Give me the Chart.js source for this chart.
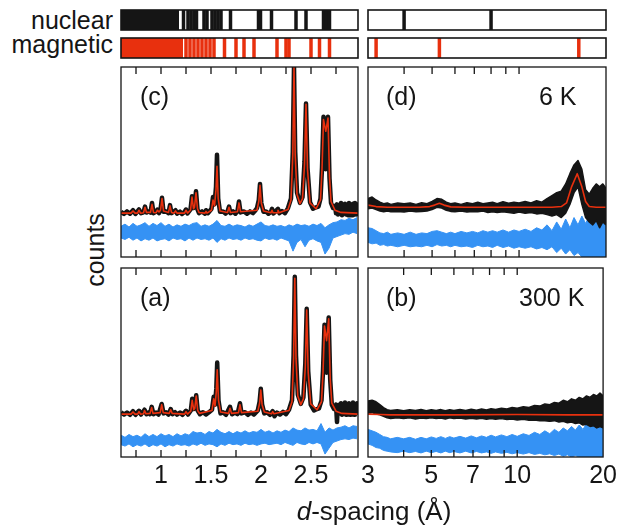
<!DOCTYPE html>
<html>
<head>
<meta charset="utf-8">
<script src="https://cdn.jsdelivr.net/npm/chart.js@4.4.1/dist/chart.umd.min.js"></script>
<style>
  body { margin: 0; background: #fff; }
  #fig { position: relative; width: 621px; height: 527px; font-family: "Liberation Sans", Arial, sans-serif; color: #151515; }
  #fig canvas { position: absolute; }
  .lbl { position: absolute; font-size: 25px; line-height: 25px; white-space: nowrap; }
</style>
</head>
<body>
<div id="fig">
  <canvas id="nucL" width="241" height="24" style="left:119px;top:8px"></canvas>
  <canvas id="magL" width="241" height="24" style="left:119px;top:36px"></canvas>
  <canvas id="nucR" width="242" height="24" style="left:366px;top:8px"></canvas>
  <canvas id="magR" width="242" height="24" style="left:366px;top:36px"></canvas>
  <canvas id="panelC" width="241" height="194" style="left:119px;top:65px"></canvas>
  <canvas id="panelD" width="242" height="194" style="left:366px;top:65px"></canvas>
  <canvas id="panelA" width="241" height="231" style="left:119px;top:266px"></canvas>
  <canvas id="panelB" width="273" height="231" style="left:348px;top:266px"></canvas>

  <div class="lbl" style="left:0;width:113px;text-align:right;top:8px">nuclear</div>
  <div class="lbl" style="left:0;width:113px;text-align:right;top:32px">magnetic</div>
  <div class="lbl" style="left:95px;top:250px;transform:translate(-50%,-50%) rotate(-90deg)">counts</div>
  <div class="lbl" style="left:140px;top:84px">(c)</div>
  <div class="lbl" style="left:386px;top:84px">(d)</div>
  <div class="lbl" style="left:539px;top:84px">6 K</div>
  <div class="lbl" style="left:140px;top:285px">(a)</div>
  <div class="lbl" style="left:386px;top:285px">(b)</div>
  <div class="lbl" style="left:519px;top:285px">300 K</div>
  <div class="lbl" style="left:374px;top:498px;font-size:26px;line-height:26px;transform:translateX(-50%)"><i>d</i>-spacing (Å)</div>
</div>
<script>
// axis ranges and ticks
const leftRange = [0.6, 2.97];
const rightRange = [3, 20];
const yRange = [-0.3, 1.0];
const leftTicks = [0.75, 1, 1.25, 1.5, 1.75, 2, 2.25, 2.5, 2.75];
const rightTicks = [4, 5, 6, 7, 8, 9, 10];
const leftTickLabels = [1, 1.5, 2, 2.5];
const rightTickLabels = [3, 5, 7, 10, 20];

// reflection markers
const nuclearBlockL = [0.6, 1.18];
const nuclearLinesL = [1.225, 1.27, 1.30, 1.33, 1.355, 1.43, 1.46, 1.51, 1.54, 1.57, 1.60, 1.695, 1.975, 1.995, 2.105, 2.35, 2.45, 2.625, 2.655, 2.685];
const nuclearLinesR = [4.0, 8.0];
const magneticBlockL = [0.6, 1.22];
const magneticLinesL = [1.25, 1.29, 1.33, 1.37, 1.41, 1.45, 1.49, 1.53, 1.635, 1.75, 1.83, 1.93, 2.16, 2.25, 2.28, 2.50, 2.585, 2.685];
const magneticLinesR = [3.2, 5.3, 16.1];

// panel (c), 6 K, short d
const fitC = [[0.60,0],[0.70,0],[0.72,0.015],[0.74,0],[0.765,0],[0.78,0.02],[0.795,0],[0.825,0.003],[0.84,0.04],[0.855,0.005],
  [0.895,0.005],[0.91,0.06],[0.925,0.005],[0.95,0.003],[0.965,0.02],[0.98,0.008],[0.995,0.02],[1.01,0.10],[1.025,0.015],[1.075,0.005],
  [1.09,0.05],[1.105,0.005],[1.13,0],[1.145,0.015],[1.16,0],[1.235,0],[1.25,0.02],[1.265,0],[1.295,0.02],[1.31,0.11],
  [1.325,0.03],[1.335,0.04],[1.35,0.14],[1.365,0.03],[1.38,0.005],[1.44,0],[1.45,0.012],[1.46,0],[1.505,0.02],[1.52,0.09],
  [1.535,0.05],[1.55,0.16],[1.56,0.32],[1.572,0.1],[1.59,0.015],[1.665,0.005],[1.68,0.04],[1.695,0.005],[1.765,0.01],[1.78,0.07],
  [1.795,0.01],[1.96,0.02],[1.978,0.08],[1.99,0.19],[2.003,0.07],[2.025,0.015],[2.10,0.003],[2.11,0.02],[2.12,0.003],[2.16,0.003],
  [2.17,0.02],[2.18,0.003],[2.27,0.025],[2.30,0.09],[2.318,0.4],[2.33,1.0],[2.342,0.4],[2.36,0.13],[2.39,0.065],[2.415,0.1],
  [2.435,0.33],[2.45,0.745],[2.465,0.3],[2.49,0.07],[2.55,0.03],[2.595,0.09],[2.61,0.3],[2.625,0.64],[2.648,0.56],[2.67,0.65],
  [2.685,0.25],[2.70,0.08],[2.74,0.02],[2.80,0.005],[2.97,0]];
const obsC = [[0.60,0.01],[0.63,-0.005],[0.66,0.012],[0.69,-0.004],[0.72,0.02],[0.745,-0.005],[0.78,0.025],[0.80,0],[0.825,0.006],[0.84,0.045],
  [0.855,0.004],[0.875,0.012],[0.895,0.004],[0.91,0.07],[0.925,0],[0.95,0.01],[0.965,0.025],[0.98,0],[0.995,0.025],[1.01,0.105],
  [1.025,0.01],[1.05,0.012],[1.075,0],[1.09,0.055],[1.105,0],[1.125,0.01],[1.145,0.02],[1.16,-0.004],[1.19,0.01],[1.21,-0.005],
  [1.235,0.008],[1.25,0.025],[1.265,-0.002],[1.295,0.025],[1.31,0.115],[1.325,0.035],[1.335,0.045],[1.35,0.15],[1.365,0.025],[1.38,0],
  [1.41,0.012],[1.44,-0.004],[1.45,0.02],[1.47,0],[1.505,0.03],[1.52,0.11],[1.535,0.06],[1.55,0.18],[1.56,0.40],[1.572,0.1],
  [1.59,0.01],[1.62,0.012],[1.645,-0.003],[1.665,0.01],[1.68,0.045],[1.695,0],[1.72,0.012],[1.745,-0.004],[1.765,0.015],[1.78,0.08],
  [1.795,0.005],[1.83,0.012],[1.86,-0.004],[1.89,0.012],[1.92,0],[1.945,0.02],[1.96,0.035],[1.978,0.09],[1.99,0.2],[2.003,0.07],
  [2.025,0.01],[2.05,0.012],[2.075,-0.004],[2.10,0.01],[2.11,0.03],[2.125,-0.002],[2.145,0.012],[2.17,0.03],[2.185,0],[2.21,0.015],
  [2.24,0],[2.27,0.035],[2.30,0.1],[2.318,0.42],[2.33,1.0],[2.342,0.42],[2.36,0.14],[2.39,0.07],[2.415,0.11],[2.435,0.35],
  [2.45,0.75],[2.465,0.31],[2.49,0.075],[2.52,0.03],[2.55,0.04],[2.575,0.045],[2.595,0.1],[2.61,0.31],[2.625,0.66],[2.648,0.3],
  [2.655,0.55],[2.67,0.66],[2.685,0.24],[2.70,0.07],[2.72,0.035],[2.74,0.05],[2.75,0],[2.76,0.06],[2.77,-0.01],[2.78,0.05],
  [2.79,0],[2.80,0.07],[2.81,-0.015],[2.82,0.055],[2.83,0],[2.84,0.065],[2.85,-0.01],[2.86,0.06],[2.87,-0.015],[2.88,0.07],
  [2.89,0],[2.90,0.06],[2.91,-0.015],[2.92,0.065],[2.93,-0.005],[2.94,0.07],[2.95,-0.01],[2.96,0.06],[2.97,0]];

// panel (a), 300 K, short d
const fitA = [[0.60,-0.005],[0.70,-0.005],[0.72,0.01],[0.74,-0.005],[0.765,-0.005],[0.78,0.012],[0.795,-0.005],[0.825,-0.003],[0.835,0.02],[0.85,-0.003],
  [0.89,0],[0.907,0.04],[0.92,0],[0.992,0.005],[1.007,0.06],[1.022,0.005],[1.082,0],[1.097,0.025],[1.112,0],[1.235,-0.005],
  [1.25,0.012],[1.265,-0.005],[1.298,0.015],[1.312,0.09],[1.327,0.025],[1.338,0.035],[1.352,0.12],[1.367,0.02],[1.385,0],[1.51,0.02],
  [1.527,0.1],[1.54,0.05],[1.553,0.15],[1.562,0.30],[1.575,0.09],[1.595,0.01],[1.675,0],[1.69,0.035],[1.705,0],[1.775,0.005],
  [1.79,0.06],[1.805,0.005],[1.968,0.015],[1.986,0.07],[1.998,0.16],[2.011,0.06],[2.033,0.01],[2.105,-0.003],[2.117,0.012],[2.13,-0.003],
  [2.28,0.02],[2.31,0.08],[2.326,0.38],[2.338,0.93],[2.35,0.38],[2.368,0.12],[2.398,0.06],[2.424,0.1],[2.443,0.32],[2.457,0.71],
  [2.472,0.28],[2.497,0.065],[2.56,0.025],[2.605,0.08],[2.62,0.28],[2.635,0.60],[2.656,0.5],[2.677,0.65],[2.692,0.24],[2.708,0.07],
  [2.75,0.015],[2.81,0],[2.97,-0.005]];
const obsA = [[0.60,0.008],[0.63,-0.008],[0.66,0.006],[0.69,-0.01],[0.72,0.015],[0.745,-0.01],[0.78,0.018],[0.80,-0.008],[0.835,0.025],[0.855,-0.006],
  [0.875,0.006],[0.89,-0.005],[0.907,0.045],[0.925,-0.006],[0.95,0.006],[0.975,-0.008],[1.007,0.065],[1.025,0],[1.05,0.008],[1.075,-0.008],
  [1.097,0.03],[1.115,-0.005],[1.14,0.008],[1.16,-0.008],[1.19,0.006],[1.215,-0.01],[1.25,0.018],[1.27,-0.008],[1.298,0.02],[1.312,0.1],
  [1.327,0.03],[1.338,0.04],[1.352,0.125],[1.367,0.02],[1.39,-0.006],[1.42,0.008],[1.45,-0.008],[1.48,0.008],[1.51,0.025],[1.527,0.115],
  [1.54,0.06],[1.553,0.17],[1.562,0.35],[1.575,0.09],[1.595,0],[1.62,0.008],[1.65,-0.01],[1.69,0.045],[1.71,-0.006],[1.74,0.006],
  [1.765,-0.005],[1.79,0.07],[1.805,0],[1.84,0.008],[1.87,-0.01],[1.90,0.006],[1.93,-0.008],[1.968,0.02],[1.986,0.08],[1.998,0.17],
  [2.011,0.06],[2.033,0],[2.06,0.008],[2.09,-0.01],[2.117,0.015],[2.135,-0.02],[2.16,0.006],[2.19,-0.008],[2.22,0.01],[2.25,-0.005],
  [2.28,0.025],[2.31,0.09],[2.326,0.4],[2.338,0.94],[2.35,0.4],[2.368,0.13],[2.398,0.065],[2.424,0.11],[2.443,0.34],[2.457,0.72],
  [2.472,0.29],[2.497,0.06],[2.53,0.02],[2.56,0.03],[2.58,0.035],[2.605,0.09],[2.62,0.29],[2.635,0.61],[2.656,0.28],[2.662,0.5],
  [2.677,0.66],[2.692,0.23],[2.708,0.06],[2.73,0.03],[2.75,0.06],[2.76,-0.06],[2.765,0.01],[2.78,0.06],[2.79,0],[2.80,0.07],
  [2.81,-0.01],[2.82,0.06],[2.83,0.005],[2.84,0.075],[2.85,-0.01],[2.86,0.06],[2.87,0],[2.88,0.07],[2.89,-0.01],[2.90,0.06],
  [2.91,0.005],[2.92,0.075],[2.93,-0.01],[2.94,0.065],[2.95,0],[2.96,0.07],[2.97,0.005]];

// difference curves (obs - calc), upper / lower edge of the noise band
const leftGrid = [0.60,0.64,0.68,0.72,0.76,0.80,0.84,0.88,0.92,0.96,
  1.00,1.04,1.08,1.12,1.16,1.20,1.24,1.28,1.32,1.36,
  1.40,1.44,1.48,1.52,1.56,1.60,1.64,1.68,1.72,1.76,
  1.80,1.84,1.88,1.92,1.96,2.00,2.04,2.08,2.12,2.16,
  2.20,2.24,2.28,2.32,2.36,2.40,2.44,2.48,2.52,2.56,
  2.60,2.64,2.68,2.72,2.76,2.80,2.84,2.88,2.92,2.96];
const diffHiC = [-0.09,-0.075,-0.095,-0.07,-0.09,-0.08,-0.065,-0.09,-0.07,-0.085,
  -0.065,-0.09,-0.075,-0.095,-0.08,-0.09,-0.075,-0.085,-0.07,-0.065,
  -0.09,-0.08,-0.09,-0.075,-0.05,-0.085,-0.09,-0.075,-0.09,-0.08,
  -0.085,-0.095,-0.08,-0.09,-0.075,-0.06,-0.085,-0.09,-0.08,-0.09,
  -0.085,-0.095,-0.08,-0.09,-0.075,-0.085,-0.08,-0.09,-0.075,-0.085,
  -0.07,-0.1,-0.08,-0.065,-0.06,-0.045,-0.05,-0.035,-0.045,-0.03];
const diffLoC = [-0.17,-0.18,-0.165,-0.185,-0.17,-0.19,-0.175,-0.185,-0.17,-0.19,
  -0.18,-0.175,-0.19,-0.17,-0.18,-0.175,-0.19,-0.17,-0.185,-0.17,
  -0.18,-0.175,-0.185,-0.17,-0.2,-0.175,-0.185,-0.17,-0.18,-0.175,
  -0.185,-0.17,-0.18,-0.175,-0.185,-0.19,-0.17,-0.18,-0.175,-0.185,
  -0.17,-0.18,-0.19,-0.26,-0.2,-0.18,-0.23,-0.185,-0.175,-0.19,
  -0.2,-0.28,-0.24,-0.17,-0.16,-0.15,-0.14,-0.145,-0.13,-0.14];
const diffHiA = [-0.15,-0.165,-0.145,-0.16,-0.15,-0.165,-0.14,-0.16,-0.145,-0.16,
  -0.14,-0.155,-0.145,-0.16,-0.14,-0.155,-0.14,-0.15,-0.125,-0.135,
  -0.13,-0.145,-0.125,-0.135,-0.11,-0.13,-0.14,-0.125,-0.14,-0.125,
  -0.135,-0.12,-0.135,-0.125,-0.13,-0.11,-0.13,-0.12,-0.135,-0.12,
  -0.13,-0.115,-0.125,-0.1,-0.115,-0.12,-0.1,-0.115,-0.11,-0.12,
  -0.07,-0.13,-0.1,-0.115,-0.1,-0.095,-0.085,-0.1,-0.085,-0.09];
const diffLoA = [-0.215,-0.225,-0.21,-0.23,-0.215,-0.225,-0.21,-0.23,-0.215,-0.225,
  -0.21,-0.23,-0.215,-0.225,-0.21,-0.22,-0.215,-0.225,-0.21,-0.22,
  -0.205,-0.22,-0.21,-0.215,-0.23,-0.21,-0.22,-0.205,-0.215,-0.21,
  -0.22,-0.205,-0.215,-0.21,-0.22,-0.21,-0.205,-0.215,-0.21,-0.205,
  -0.215,-0.2,-0.21,-0.22,-0.2,-0.21,-0.215,-0.2,-0.21,-0.2,
  -0.21,-0.28,-0.24,-0.2,-0.19,-0.18,-0.175,-0.18,-0.17,-0.175];

// long-d panels (d) 6 K and (b) 300 K
const rightGrid = [3.0,3.1,3.2,3.3,3.4,3.5,3.6,3.8,4.0,4.2,
  4.4,4.6,4.8,5.0,5.2,5.4,5.6,5.8,6.0,6.3,
  6.6,6.9,7.2,7.5,7.8,8.1,8.4,8.8,9.2,9.6,
  10,10.5,11,11.5,12,12.5,13,13.5,14,14.5,
  15,15.5,16,16.5,17,17.5,18,18.5,19,19.5,
  20];
const fitD = [[3.0,0.055],[3.2,0.045],[3.5,0.04],[4.5,0.04],[4.9,0.045],[5.1,0.055],[5.3,0.068],[5.5,0.055],[5.8,0.043],[6.5,0.04],
  [10,0.04],[13,0.04],[14,0.045],[14.6,0.07],[15.2,0.18],[15.9,0.27],[16.5,0.18],[17.0,0.08],[17.5,0.045],[18.5,0.04],[20,0.04]];
const obsHiD = [0.1,0.11,0.09,0.075,0.065,0.07,0.06,0.07,0.065,0.07,
  0.06,0.072,0.065,0.08,0.1,0.095,0.075,0.065,0.07,0.06,
  0.072,0.065,0.075,0.065,0.07,0.075,0.065,0.078,0.068,0.075,
  0.07,0.08,0.07,0.085,0.075,0.1,0.12,0.14,0.15,0.2,
  0.27,0.33,0.36,0.3,0.16,0.13,0.17,0.2,0.18,0.2,
  0.17];
const obsLoD = [0.03,0.035,0.025,0.015,0.01,0.015,0.01,0.012,0.008,0.015,
  0.01,0.012,0.015,0.025,0.04,0.035,0.02,0.012,0.01,0.015,
  0.008,0.012,0.01,0.015,0.005,0.01,0.005,0.01,0.005,0,
  0.008,0,0.005,-0.005,0,-0.01,-0.02,-0.01,-0.03,0,
  0.06,0.14,0.18,0.06,-0.03,-0.06,-0.08,-0.05,-0.1,-0.06,
  -0.08];
const diffHiD = [-0.1,-0.105,-0.12,-0.135,-0.14,-0.13,-0.145,-0.135,-0.145,-0.13,
  -0.145,-0.135,-0.14,-0.125,-0.12,-0.13,-0.14,-0.13,-0.14,-0.125,
  -0.135,-0.125,-0.135,-0.12,-0.13,-0.12,-0.13,-0.115,-0.13,-0.115,
  -0.125,-0.11,-0.125,-0.1,-0.115,-0.08,-0.12,-0.06,-0.11,-0.04,
  -0.1,-0.03,-0.08,-0.02,-0.07,-0.02,-0.06,-0.015,-0.05,-0.02,
  -0.04];
const diffLoD = [-0.2,-0.21,-0.205,-0.22,-0.215,-0.225,-0.22,-0.23,-0.22,-0.23,
  -0.225,-0.23,-0.22,-0.23,-0.215,-0.225,-0.22,-0.23,-0.22,-0.23,
  -0.225,-0.235,-0.22,-0.23,-0.225,-0.235,-0.22,-0.235,-0.225,-0.24,
  -0.23,-0.24,-0.23,-0.245,-0.235,-0.25,-0.23,-0.27,-0.24,-0.28,
  -0.25,-0.29,-0.27,-0.3,-0.3,-0.3,-0.3,-0.3,-0.3,-0.3,
  -0.3];
const fitB = [[3.0,-0.005],[3.3,-0.008],[3.6,-0.01],[6,-0.01],[10,-0.008],[15,-0.01],[20,-0.01]];
const obsHiB = [0.085,0.09,0.08,0.06,0.04,0.025,0.02,0.025,0.018,0.025,
  0.02,0.026,0.018,0.025,0.02,0.026,0.018,0.025,0.02,0.027,
  0.02,0.028,0.022,0.03,0.024,0.032,0.026,0.035,0.03,0.04,
  0.035,0.045,0.04,0.055,0.05,0.065,0.06,0.075,0.07,0.09,
  0.08,0.1,0.09,0.11,0.1,0.12,0.11,0.13,0.12,0.14,
  0.12];
const obsLoB = [0,0.005,-0.005,-0.01,-0.02,-0.03,-0.035,-0.03,-0.035,-0.03,
  -0.038,-0.032,-0.036,-0.03,-0.036,-0.032,-0.038,-0.03,-0.036,-0.032,
  -0.038,-0.033,-0.038,-0.034,-0.04,-0.035,-0.04,-0.036,-0.042,-0.038,
  -0.045,-0.04,-0.048,-0.045,-0.05,-0.05,-0.055,-0.05,-0.06,-0.055,
  -0.065,-0.06,-0.07,-0.065,-0.08,-0.075,-0.09,-0.085,-0.1,-0.09,
  -0.1];
const diffHiB = [-0.11,-0.12,-0.13,-0.145,-0.16,-0.165,-0.175,-0.165,-0.175,-0.165,
  -0.178,-0.165,-0.175,-0.162,-0.172,-0.16,-0.172,-0.16,-0.17,-0.158,
  -0.17,-0.155,-0.168,-0.155,-0.165,-0.15,-0.162,-0.148,-0.16,-0.145,
  -0.158,-0.14,-0.152,-0.13,-0.145,-0.12,-0.14,-0.11,-0.13,-0.1,
  -0.12,-0.09,-0.115,-0.08,-0.11,-0.07,-0.1,-0.06,-0.09,-0.06,
  -0.08];
const diffLoB = [-0.21,-0.22,-0.235,-0.24,-0.255,-0.26,-0.265,-0.27,-0.26,-0.27,
  -0.262,-0.272,-0.26,-0.27,-0.262,-0.272,-0.26,-0.27,-0.262,-0.272,
  -0.26,-0.272,-0.262,-0.272,-0.265,-0.275,-0.265,-0.275,-0.268,-0.278,
  -0.27,-0.28,-0.27,-0.282,-0.275,-0.285,-0.278,-0.29,-0.28,-0.295,
  -0.285,-0.3,-0.29,-0.3,-0.3,-0.3,-0.3,-0.3,-0.3,-0.3,
  -0.3];

const FONT = '"Liberation Sans", Arial, sans-serif';
const RED = '#e8300e';
const BLUE = '#3592f4';
const INK = '#151515';

Chart.defaults.font.family = FONT;
Chart.defaults.color = INK;

const pts = pairs => pairs.map(p => ({ x: p[0], y: p[1] }));
const onGrid = (grid, vals) => grid.map((d, i) => ({ x: d, y: vals[i] }));

// box around the plot area plus inward ticks on top and bottom
const frame = {
  id: 'frame',
  afterDatasetsDraw(chart, args, opts) {
    const { ctx, chartArea: a } = chart;
    const x = chart.scales.x;
    ctx.save();
    ctx.strokeStyle = INK;
    ctx.lineWidth = opts.width;
    ctx.strokeRect(a.left, a.top, a.right - a.left, a.bottom - a.top);
    ctx.beginPath();
    (opts.ticks || []).forEach(v => {
      const px = x.getPixelForValue(v);
      ctx.moveTo(px, a.top);
      ctx.lineTo(px, a.top + opts.len);
      ctx.moveTo(px, a.bottom);
      ctx.lineTo(px, a.bottom - opts.len);
    });
    ctx.stroke();
    ctx.restore();
  }
};

function xScale(range, log, labels) {
  const s = { type: log ? 'logarithmic' : 'linear', min: range[0], max: range[1], display: !!labels };
  if (labels) {
    Object.assign(s, {
      position: 'bottom',
      grid: { display: false, drawTicks: false },
      border: { display: false },
      ticks: { color: INK, font: { size: 25 }, padding: 4, maxRotation: 0, autoSkip: false, callback: v => String(v) },
      afterBuildTicks: sc => { sc.ticks = labels.map(v => ({ value: v })); },
      afterFit: sc => { sc.height = 40; }
    });
  }
  return s;
}

function baseOptions(xs, ys, pad, frameOpts) {
  return {
    responsive: false,
    animation: false,
    events: [],
    layout: { padding: pad, autoPadding: false },
    elements: { point: { radius: 0 }, line: { tension: 0, borderJoinStyle: 'round' } },
    plugins: { legend: { display: false }, tooltip: { enabled: false }, frame: frameOpts },
    scales: { x: xs, y: ys }
  };
}

function strip(id, range, log, block, lines, color) {
  const ds = [{
    data: lines.map(d => ({ x: d, y: 0.5 })),
    showLine: false,
    pointStyle: 'line',
    pointRotation: 90,
    pointRadius: 10,
    pointBorderWidth: 3.5,
    pointBorderColor: color
  }];
  if (block) {
    ds.push({ data: block.map(d => ({ x: d, y: 1 })), borderWidth: 0, borderColor: color, backgroundColor: color, fill: 'start' });
  }
  new Chart(document.getElementById(id), {
    type: 'line',
    data: { datasets: ds },
    options: baseOptions(xScale(range, log), { display: false, min: 0, max: 1 }, 2, { width: 1.6, ticks: [] }),
    plugins: [frame]
  });
}

function panel(id, cfg) {
  const ds = [{ data: pts(cfg.fit), borderColor: RED, borderWidth: 1.6, order: 0 }];
  if (cfg.obs) {
    ds.push({ data: pts(cfg.obs), borderColor: INK, borderWidth: 4.5, order: 1 });
  } else {
    ds.push({ data: onGrid(cfg.grid, cfg.obsLo), borderColor: INK, borderWidth: 1.5, order: 1 });
    ds.push({ data: onGrid(cfg.grid, cfg.obsHi), borderColor: INK, borderWidth: 1.5, backgroundColor: INK, fill: '-1', order: 1 });
  }
  ds.push({ data: onGrid(cfg.grid, cfg.diffLo), borderColor: BLUE, borderWidth: 1, order: 2 });
  ds.push({ data: onGrid(cfg.grid, cfg.diffHi), borderColor: BLUE, borderWidth: 1, backgroundColor: BLUE, fill: '-1', order: 2 });
  new Chart(document.getElementById(id), {
    type: 'line',
    data: { datasets: ds },
    options: baseOptions(
      xScale(cfg.range, cfg.log, cfg.labels),
      { display: false, min: yRange[0], max: yRange[1] },
      cfg.pad,
      { width: 1.3, len: 7, ticks: cfg.ticks }
    ),
    plugins: [frame]
  });
}

strip('nucL', leftRange, false, nuclearBlockL, nuclearLinesL, INK);
strip('magL', leftRange, false, magneticBlockL, magneticLinesL, RED);
strip('nucR', rightRange, true, null, nuclearLinesR, INK);
strip('magR', rightRange, true, null, magneticLinesR, RED);

panel('panelC', { fit: fitC, obs: obsC, grid: leftGrid, diffHi: diffHiC, diffLo: diffLoC,
  range: leftRange, log: false, ticks: leftTicks, pad: 2 });
panel('panelD', { fit: fitD, grid: rightGrid, obsHi: obsHiD, obsLo: obsLoD, diffHi: diffHiD, diffLo: diffLoD,
  range: rightRange, log: true, ticks: rightTicks, pad: 2 });
panel('panelA', { fit: fitA, obs: obsA, grid: leftGrid, diffHi: diffHiA, diffLo: diffLoA,
  range: leftRange, log: false, ticks: leftTicks, labels: leftTickLabels, pad: { top: 2, left: 2, right: 2, bottom: 0 } });
panel('panelB', { fit: fitB, grid: rightGrid, obsHi: obsHiB, obsLo: obsLoB, diffHi: diffHiB, diffLo: diffLoB,
  range: rightRange, log: true, ticks: rightTicks, labels: rightTickLabels, pad: { top: 2, left: 20, right: 15, bottom: 0 } });
</script>
</body>
</html>
